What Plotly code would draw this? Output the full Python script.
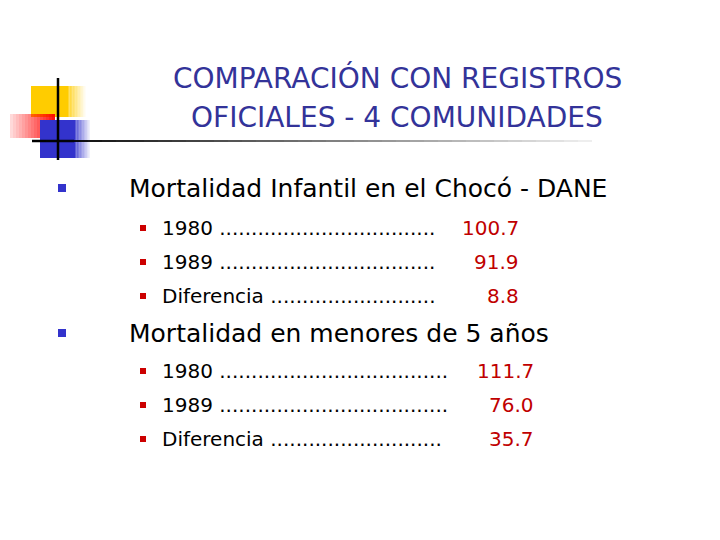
import plotly.graph_objects as go

title_lines = ["COMPARACIÓN CON REGISTROS", "OFICIALES - 4 COMUNIDADES"]
main_items = ["Mortalidad Infantil en el Chocó - DANE", "Mortalidad en menores de 5 años"]
sub_labels_1 = ["1980 " + "." * 34, "1989 " + "." * 34, "Diferencia " + "." * 26]
sub_values_1 = ["100.7", "91.9", "8.8"]
sub_labels_2 = ["1980 " + "." * 36, "1989 " + "." * 36, "Diferencia " + "." * 27]
sub_values_2 = ["111.7", "76.0", "35.7"]

fig = go.Figure()
shapes = []
ann = []
F = "DejaVu Sans"

# logo
shapes.append(dict(type="rect", x0=31, x1=68, y0=86, y1=117, fillcolor="#FFCC00", line_width=0, layer="below"))
for i in range(12):
    shapes.append(dict(type="rect", x0=68+i*1.5, x1=69.5+i*1.5, y0=86, y1=117, fillcolor="#FFCC00", opacity=max(0, 0.8-i*0.07), line_width=0, layer="below"))
for i in range(15):
    shapes.append(dict(type="rect", x0=10+i*3, x1=13+i*3, y0=114, y1=138, fillcolor="#FF0000", opacity=0.15+i*0.055, line_width=0, layer="below"))
shapes.append(dict(type="rect", x0=40, x1=75, y0=120, y1=158, fillcolor="#3333CC", line_width=0, layer="below"))
for i in range(10):
    shapes.append(dict(type="rect", x0=75+i*1.5, x1=76.5+i*1.5, y0=120, y1=158, fillcolor="#3333CC", opacity=max(0, 0.8-i*0.08), line_width=0, layer="below"))
shapes.append(dict(type="line", x0=58, x1=58, y0=78, y1=160, line=dict(color="black", width=2.5)))
for i in range(40):
    shapes.append(dict(type="line", x0=32+i*14, x1=46+i*14, y0=141, y1=141, line=dict(color="black", width=2.5 if i < 3 else 2), opacity=max(0.05, 1-i*0.024)))

for i, t in enumerate(title_lines):
    ann.append(dict(x=397, y=78+i*39, text=t, xanchor="center", yanchor="middle", showarrow=False, font=dict(family=F, size=28, color="#333399")))

def main(y, t):
    shapes.append(dict(type="rect", x0=58, x1=66, y0=y-4, y1=y+4, fillcolor="#3333CC", line_width=0))
    ann.append(dict(x=127, y=y, text=t, xanchor="left", yanchor="middle", showarrow=False, font=dict(family=F, size=25, color="black")))

def sub(y, lab, val, xr):
    shapes.append(dict(type="rect", x0=140, x1=146, y0=y-3, y1=y+3, fillcolor="#CC0000", line_width=0))
    ann.append(dict(x=160, y=y, text=lab, xanchor="left", yanchor="middle", showarrow=False, font=dict(family=F, size=20, color="black")))
    ann.append(dict(x=xr, y=y, text=val, xanchor="right", yanchor="middle", showarrow=False, font=dict(family=F, size=20, color="#C00000")))

main(188, main_items[0])
for k, (l, v) in enumerate(zip(sub_labels_1, sub_values_1)):
    sub(228+k*34, l, v, 521)
main(333, main_items[1])
for k, (l, v) in enumerate(zip(sub_labels_2, sub_values_2)):
    sub(371+k*34, l, v, 536)

fig.update_layout(width=720, height=540, margin=dict(l=0, r=0, t=0, b=0), paper_bgcolor="white", plot_bgcolor="white",
                  xaxis=dict(range=[8, 728], visible=False), yaxis=dict(range=[548, 8], visible=False),
                  shapes=shapes, annotations=ann, showlegend=False)
fig.write_html("out.html")
